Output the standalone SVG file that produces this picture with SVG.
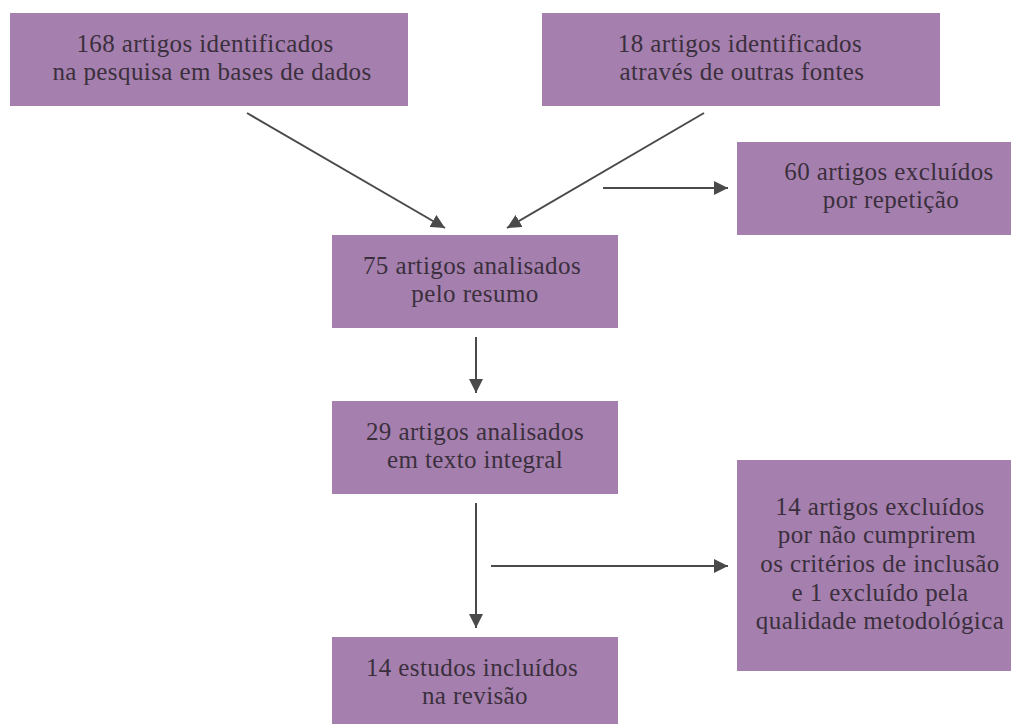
<svg xmlns="http://www.w3.org/2000/svg" width="1011" height="724" viewBox="0 0 1011 724">
<style>
.box{fill:#a580ae}
.t{font-family:"Liberation Serif","DejaVu Serif",serif;font-size:25px;letter-spacing:0.4px;fill:#3b2f3d;text-anchor:middle}
.c{stroke:#4a4a4a;stroke-width:2;fill:none;marker-end:url(#ah)}
</style>
<defs>
<marker id="ah" viewBox="0 0 10 10" refX="10" refY="5" markerWidth="7" markerHeight="7" markerUnits="strokeWidth" orient="auto">
<path d="M0,0 L10,5 L0,10 Z" fill="#4a4a4a"/>
</marker>
</defs>
<rect width="1011" height="724" fill="#fff"/>
<g id="n1"><rect class="box" x="10" y="13" width="398" height="93"/><text class="t" x="205" y="52">168 artigos identificados</text><text class="t" x="212" y="80">na pesquisa em bases de dados</text></g>
<g id="n2"><rect class="box" x="542" y="13" width="398" height="93"/><text class="t" x="740" y="52">18 artigos identificados</text><text class="t" x="742" y="80">através de outras fontes</text></g>
<g id="n3"><rect class="box" x="737" y="142" width="274" height="93"/><text class="t" x="889" y="180">60 artigos excluídos</text><text class="t" x="891" y="208">por repetição</text></g>
<g id="n4"><rect class="box" x="332" y="235" width="286" height="93"/><text class="t" x="472" y="274">75 artigos analisados</text><text class="t" x="475" y="302">pelo resumo</text></g>
<g id="n5"><rect class="box" x="332" y="401" width="286" height="93"/><text class="t" x="475" y="440">29 artigos analisados</text><text class="t" x="475" y="468">em texto integral</text></g>
<g id="n6"><rect class="box" x="737" y="460" width="274" height="211"/><text class="t" x="880" y="515">14 artigos excluídos</text><text class="t" x="877" y="543">por não cumprirem</text><text class="t" x="880" y="572">os critérios de inclusão</text><text class="t" x="880" y="601">e 1 excluído pela</text><text class="t" x="880" y="629">qualidade metodológica</text></g>
<g id="n7"><rect class="box" x="332" y="637" width="286" height="87"/><text class="t" x="472" y="676">14 estudos incluídos</text><text class="t" x="475" y="704">na revisão</text></g>
<g id="connectors">
<line class="c" x1="247" y1="113" x2="445" y2="228"/>
<line class="c" x1="704" y1="113" x2="507" y2="228"/>
<line class="c" x1="603" y1="188" x2="728" y2="188"/>
<line class="c" x1="476" y1="337" x2="476" y2="393"/>
<line class="c" x1="476" y1="503" x2="476" y2="628"/>
<line class="c" x1="491" y1="566" x2="728" y2="566"/>
</g>
</svg>
